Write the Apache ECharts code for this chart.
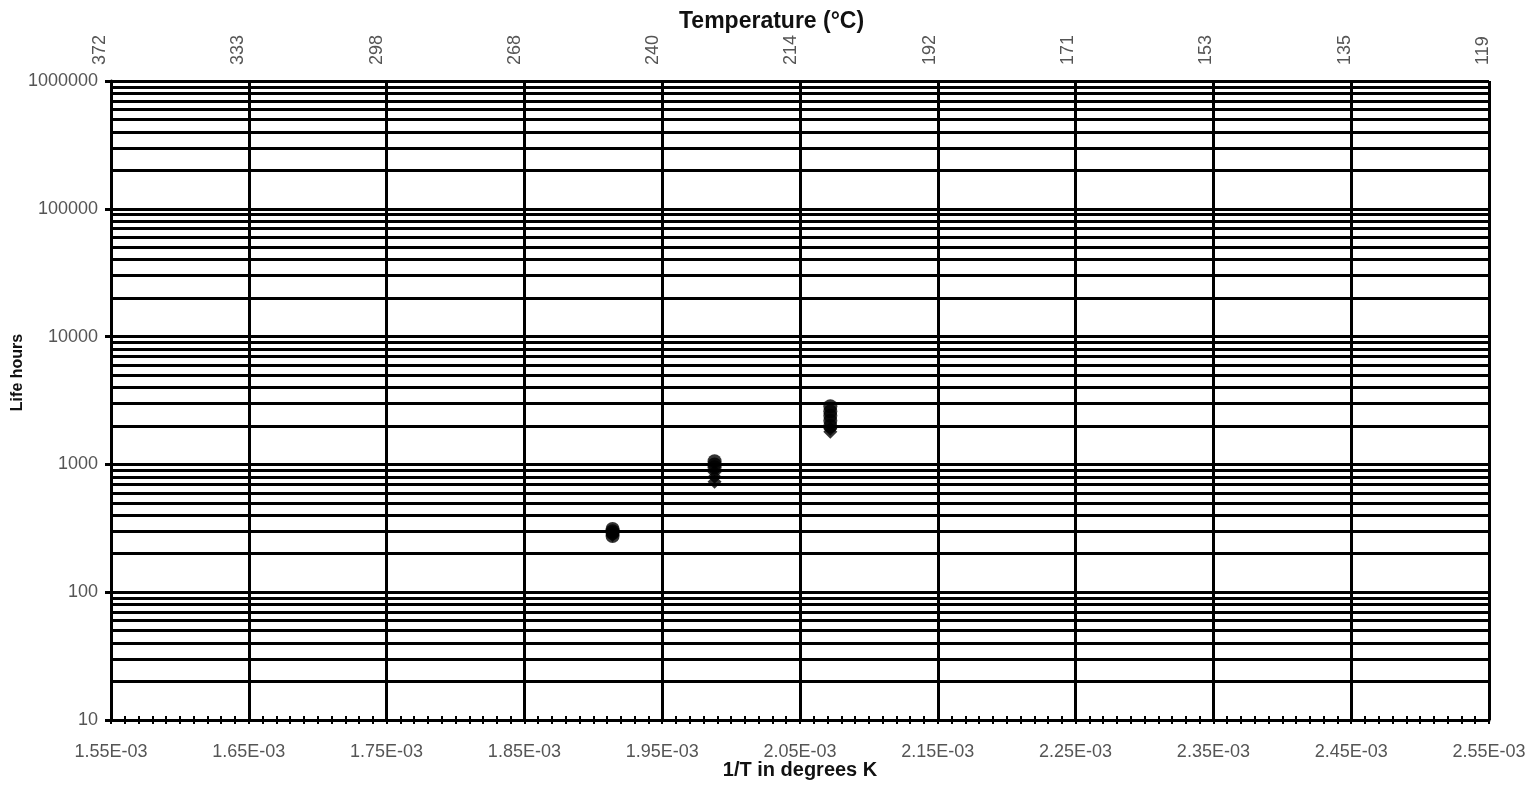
<!DOCTYPE html>
<html>
<head>
<meta charset="utf-8">
<title>Life hours vs 1/T</title>
<script src="https://cdn.jsdelivr.net/npm/echarts@6/dist/echarts.min.js"></script>
<style>
    html, body { margin: 0; padding: 0; background: #fff; }
    #chart { width: 1535px; height: 785px; }
</style>
</head>
<body>
<div id="chart"></div>
<script>
// tick labels
const xTickLabels = ['1.55E-03', '1.65E-03', '1.75E-03', '1.85E-03', '1.95E-03', '2.05E-03',
    '2.15E-03', '2.25E-03', '2.35E-03', '2.45E-03', '2.55E-03'];
const tempLabels = ['372', '333', '298', '268', '240', '214', '192', '171', '153', '135', '119'];
const yTickLabels = ['10', '100', '1000', '10000', '100000', '1000000'];

// 1/T of the three test temperatures
const invT = [0.001914, 0.001988, 0.002072];

// life in hours, round markers
const lifeRound250 = [275, 290, 300, 312];
const lifeRound230 = [950, 1000, 1060];
const lifeRound210 = [2000, 2200, 2400, 2600, 2850];

// life in hours, diamond markers
const lifeDiamond250 = [280];
const lifeDiamond230 = [730, 800, 870];
const lifeDiamond210 = [1800, 1900];

// minor log grid lines (2..9 in each decade)
const decades = [10, 100, 1000, 10000, 100000];
const steps = [2, 3, 4, 5, 6, 7, 8, 9];
const minorLines = [];
decades.forEach(d => steps.forEach(s => minorLines.push(d * s)));

function pairs(x, ys) {
    return ys.map(y => [x, y]);
}

const roundData = [].concat(
    pairs(invT[0], lifeRound250),
    pairs(invT[1], lifeRound230),
    pairs(invT[2], lifeRound210)
);
const diamondData = [].concat(
    pairs(invT[0], lifeDiamond250),
    pairs(invT[1], lifeDiamond230),
    pairs(invT[2], lifeDiamond210)
);

const font = 'Liberation Sans, Arial, sans-serif';
const black = '#000';
const labelColor = '#555';

const chart = echarts.init(document.getElementById('chart'));

chart.setOption({
    animation: false,
    backgroundColor: '#fff',
    title: {
        text: 'Temperature (°C)',
        left: 674,
        top: 5,
        textStyle: { fontFamily: font, fontSize: 23, fontWeight: 'bold', color: '#111' }
    },
    grid: [
        { left: 111, right: 46, top: 81, bottom: 65, outerBoundsMode: 'none', containLabel: false },
        { left: 100, right: 52, top: 81, bottom: 65, outerBoundsMode: 'none', containLabel: false }
    ],
    xAxis: [
        {
            type: 'value',
            gridIndex: 0,
            position: 'bottom',
            min: 0.00155,
            max: 0.00255,
            interval: 0.0001,
            name: '1/T in degrees K',
            nameLocation: 'middle',
            nameGap: 40,
            nameMoveOverlap: false,
            nameTextStyle: { fontFamily: font, fontSize: 20, fontWeight: 'bold', color: '#111' },
            axisLine: { show: true, onZero: false, lineStyle: { color: black, width: 3 } },
            axisTick: { show: true, inside: false, length: 4, lineStyle: { color: black, width: 2 } },
            minorTick: { show: true, splitNumber: 10, length: 4, lineStyle: { color: black, width: 2 } },
            axisLabel: {
                margin: 23,
                fontFamily: font,
                fontSize: 18,
                color: labelColor,
                formatter: (v, i) => xTickLabels[i] || ''
            },
            splitLine: { show: true, lineStyle: { color: black, width: 3 } }
        },
        {
            // inward half of the crossing ticks
            type: 'value',
            gridIndex: 0,
            position: 'bottom',
            min: 0.00155,
            max: 0.00255,
            interval: 0.0001,
            axisLine: { show: false },
            axisTick: { show: true, inside: true, length: 4, lineStyle: { color: black, width: 2 } },
            minorTick: { show: true, splitNumber: 10, length: 4, lineStyle: { color: black, width: 2 } },
            axisLabel: { show: false },
            splitLine: { show: false }
        },
        {
            // temperature scale on top
            type: 'value',
            gridIndex: 1,
            position: 'top',
            min: 0.00155,
            max: 0.00255,
            interval: 0.0001,
            axisLine: { show: false },
            axisTick: { show: false },
            axisLabel: {
                rotate: 90,
                margin: 16,
                fontFamily: font,
                fontSize: 18,
                color: labelColor,
                formatter: (v, i) => tempLabels[i] || ''
            },
            splitLine: { show: false }
        }
    ],
    yAxis: [
        {
            type: 'log',
            gridIndex: 0,
            logBase: 10,
            min: 10,
            max: 1000000,
            name: 'Life hours',
            nameLocation: 'middle',
            nameGap: 85,
            nameMoveOverlap: false,
            nameTextStyle: {
                fontFamily: font,
                fontSize: 16,
                fontWeight: 'bold',
                color: '#111',
                padding: [0, 0, 0, 56]
            },
            axisLine: { show: true, lineStyle: { color: black, width: 3 } },
            axisTick: { show: true, length: 6, lineStyle: { color: black, width: 3 } },
            axisLabel: {
                margin: 13,
                fontFamily: font,
                fontSize: 18,
                color: labelColor,
                formatter: (v, i) => yTickLabels[i] || String(Math.round(v))
            },
            splitLine: { show: true, lineStyle: { color: black, width: 3 } }
        },
        {
            type: 'value',
            gridIndex: 1,
            show: false,
            min: 0,
            max: 1
        }
    ],
    series: [
        {
            name: 'Round',
            type: 'scatter',
            xAxisIndex: 0,
            yAxisIndex: 0,
            symbol: 'circle',
            symbolSize: 14,
            itemStyle: { color: black },
            data: roundData,
            z: 5,
            markLine: {
                silent: true,
                symbol: 'none',
                label: { show: false },
                lineStyle: { color: black, width: 3, type: 'solid' },
                data: minorLines.map(v => ({ yAxis: v }))
            }
        },
        {
            name: 'Diamond',
            type: 'scatter',
            xAxisIndex: 0,
            yAxisIndex: 0,
            symbol: 'diamond',
            symbolSize: 14,
            itemStyle: { color: black },
            data: diamondData,
            z: 5
        }
    ]
});

window.addEventListener('resize', () => chart.resize());
</script>
</body>
</html>
